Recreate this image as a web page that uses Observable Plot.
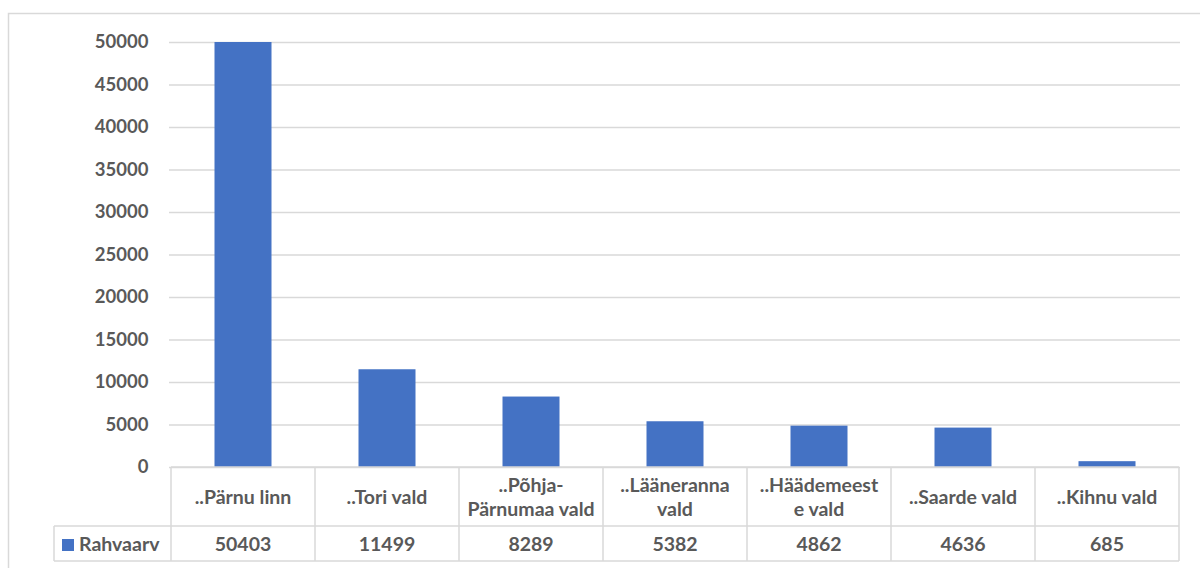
<!DOCTYPE html>
<html><head><meta charset="utf-8">
<script src="https://cdn.jsdelivr.net/npm/d3@7"></script>
<script src="https://cdn.jsdelivr.net/npm/@observablehq/plot@0.6"></script>
<style>
body{margin:0;background:#fff;overflow:hidden}
#chart{position:relative;width:1200px;height:568px;overflow:hidden}
</style>
</head><body><div id="chart"></div>
<script>
const categories = ["..Pärnu linn","..Tori vald","..Põhja-Pärnumaa vald","..Lääneranna vald","..Häädemeeste vald","..Saarde vald","..Kihnu vald"];
const labelLines = [["..Pärnu linn"],["..Tori vald"],["..Põhja-","Pärnumaa vald"],["..Lääneranna","vald"],["..Häädemeest","e vald"],["..Saarde vald"],["..Kihnu vald"]];
const values = [50403,11499,8289,5382,4862,4636,685];
const seriesName = "Rahvaarv";
const yTicks = [0,5000,10000,15000,20000,25000,30000,35000,40000,45000,50000];

const BLUE = "#4472c4", GRID = "#d9d9d9", TXT = "#595959", FONT = "Lato, 'Open Sans', sans-serif";
const data = categories.map((c,i)=>({category:c, value:values[i]}));

const plot = Plot.plot({
  width:1200, height:568,
  marginTop:42, marginBottom:101, marginLeft:169, marginRight:20,
  style:{fontFamily:FONT, fontWeight:700, fontSize:"18px", color:TXT, background:"transparent"},
  x:{domain:categories, padding:0, axis:null},
  y:{domain:[0,50000], label:null, axis:null},
  marks:[
    Plot.gridY(yTicks, {stroke:GRID, strokeOpacity:1, strokeWidth:1.5}),
    Plot.axisY(yTicks,{tickSize:0, tickPadding:21, label:null, fontSize:18.5, fontWeight:700, fill:TXT, tickFormat:d=>String(d)}),
    Plot.barY(data, {x:"category", y:"value", fill:BLUE, insetLeft:43.5, insetRight:43.5, clip:true})
  ]
});
document.getElementById("chart").appendChild(plot);

// data table drawn with the plot's own x scale
const xs = plot.scale("x");
const bw = xs.bandwidth;
const left = c => xs.apply(c);
const svg = d3.select(plot);
const g = svg.append("g").attr("font-family", FONT).attr("font-weight", 700).attr("fill", TXT);
const yTop = 467, yMid = 526, yBot = 561, legX = 54;
const x0 = left(categories[0]), x1 = left(categories[categories.length-1]) + bw;

// outer chart border (top and left edges visible)
svg.insert("path", ":first-child").attr("d", "M8.5,568V13.5H1200")
  .attr("fill", "none").attr("stroke", GRID).attr("stroke-width", 1.5);

const lines = g.append("g").attr("stroke", GRID).attr("stroke-width", 1.5);
lines.append("line").attr("x1", x0).attr("x2", x1).attr("y1", yTop).attr("y2", yTop);
lines.append("line").attr("x1", legX).attr("x2", x1).attr("y1", yMid).attr("y2", yMid);
lines.append("line").attr("x1", legX).attr("x2", x1).attr("y1", yBot).attr("y2", yBot);
lines.append("line").attr("x1", legX).attr("x2", legX).attr("y1", yMid).attr("y2", yBot);
categories.forEach(c => {
  lines.append("line").attr("x1", left(c)).attr("x2", left(c)).attr("y1", yTop).attr("y2", yBot);
});
lines.append("line").attr("x1", x1).attr("x2", x1).attr("y1", yTop).attr("y2", yBot);

categories.forEach((c,i) => {
  const cx = left(c) + bw/2;
  const ls = labelLines[i];
  const cy = (yTop + yMid)/2;
  ls.forEach((t,j) => {
    g.append("text").attr("x", cx).attr("y", cy + (j - (ls.length-1)/2)*24)
      .attr("text-anchor", "middle").attr("dominant-baseline", "central").attr("font-size", 19.5).text(t);
  });
  g.append("text").attr("x", cx).attr("y", (yMid + yBot)/2)
    .attr("text-anchor", "middle").attr("dominant-baseline", "central").attr("font-size", 19.5)
    .text(String(values[i]));
});
g.append("rect").attr("x", 62).attr("y", 539).attr("width", 12).attr("height", 12).attr("fill", BLUE);
g.append("text").attr("x", 79).attr("y", (yMid + yBot)/2).attr("text-anchor", "start").attr("dominant-baseline", "central")
  .attr("font-size", 19.5).text(seriesName);
</script>
</body></html>
